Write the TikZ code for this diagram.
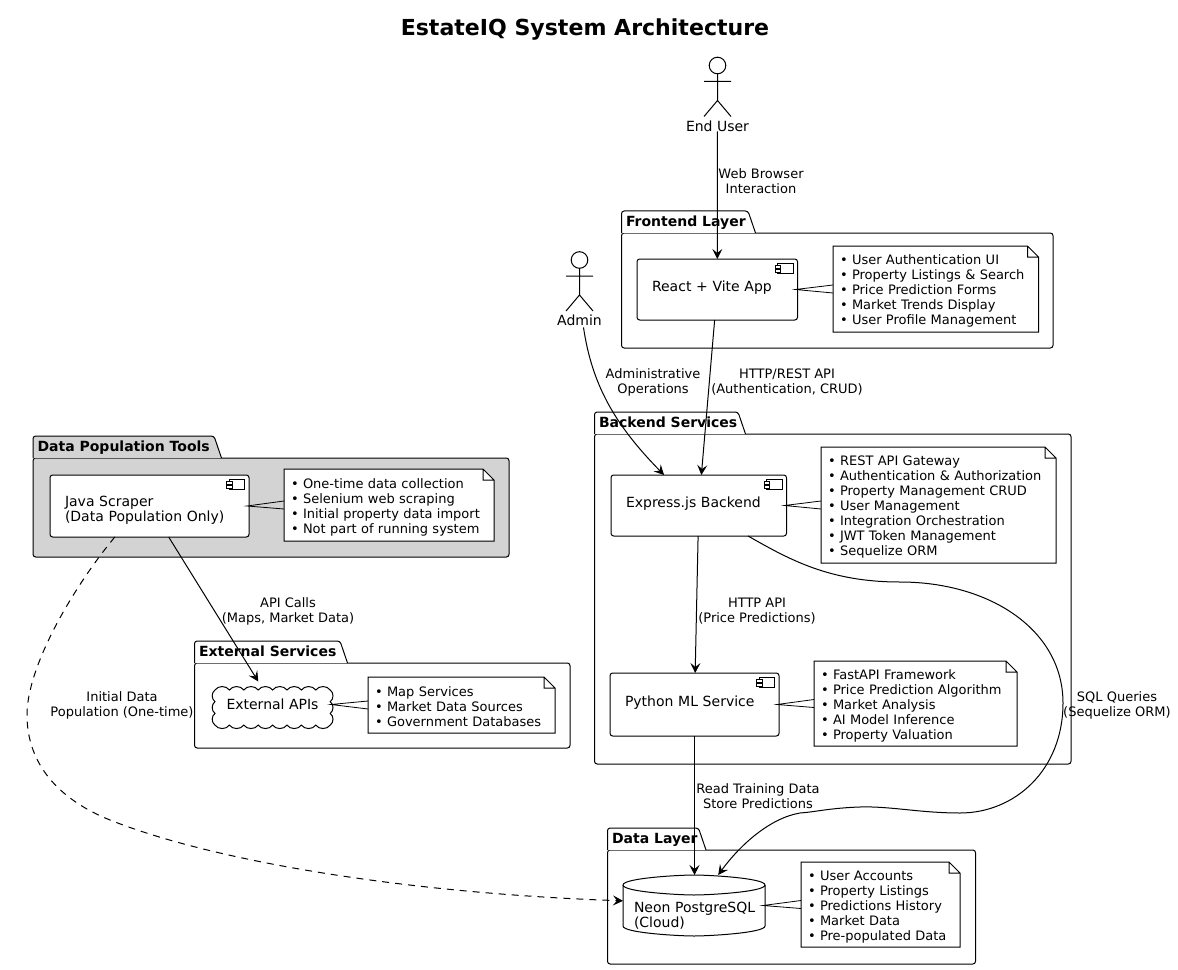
\documentclass[tikz,border=0pt]{standalone}
\usepackage{fontspec}
\setmainfont{DejaVu Sans}
\usepackage{tikz}
\usetikzlibrary{
	arrows.meta
}
\definecolor{toolsgray}{HTML}{D3D3D3}
\tikzset{
	every node/.style={inner sep=0pt,outer sep=0pt},
	base/.style={line width=0.75pt,line join=miter},
	lbl/.style={font=\fontsize{9.75}{11.25}\selectfont,align=center},
	arr/.style={base,-{Stealth[length=7.5pt,width=7.5pt,inset=3pt]}},
	pkg/.style 2 args={base,draw,fill=white,rounded corners=2pt,minimum width=#1*0.75pt,minimum height=#2*0.75pt},
	pkgtitle/.style={font=\fontsize{10.5}{12}\selectfont\bfseries,anchor=base west},
	comp/.style 2 args={base,draw,fill=white,rounded corners=2pt,minimum height=#2*0.75pt,
		text width={(#1-30)*0.75pt},inner xsep=11.25pt,align=left,
		font=\fontsize{10.5}{11.25}\selectfont,text height=8pt,text depth=4.8pt},
	note/.style 2 args={fill=white,minimum height=#2*0.75pt,text width={(#1-14)*0.75pt},
		inner xsep=5.25pt,align=left,font=\fontsize{9.75}{11.25}\selectfont,
		execute at begin node={\rule{0pt}{10.3pt}}},
	db/.style={minimum height=61*0.75pt,text width={131*0.75pt},inner xsep=0pt,align=left,
		font=\fontsize{10.5}{11.25}\selectfont,text height=23.3pt,text depth=13.5pt},
	actorlbl/.style={font=\fontsize{10.5}{12}\selectfont},
	actor/.pic={
		\draw[base,fill=white] (0,0) circle[radius=8.3];
		\draw[base] (0,8.3) -- (0,35) (-13.5,16) -- (13.5,16)
			(-13.5,51) -- (0,35) -- (13.5,51);
	}
}
% outline of a note, drawn over its filled node
\newcommand{\notefold}[2][white]{
	\fill[#1] ([xshift=-8.25pt]#2.north east) -- (#2.north east) -- ([yshift=-8.25pt]#2.north east) -- cycle;
	\draw[base] (#2.north west) -- ([xshift=-8.25pt]#2.north east) -- ([yshift=-8.25pt]#2.north east)
		-- (#2.south east) -- (#2.south west) -- cycle
		([xshift=-8.25pt]#2.north east) |- ([yshift=-8.25pt]#2.north east);
}
\newcommand{\notetail}[2]{
	\draw[base,line width=0.6pt] ([yshift=3pt]#2.west) -- ([xshift=-1.5pt]#1.east) -- ([yshift=-3pt]#2.west);
}
\newcommand{\compicon}[1]{
	\draw[line width=0.6pt,fill=white] ([xshift=-15pt,yshift=-3pt]#1.north east) rectangle ([xshift=-3.4pt,yshift=-10.5pt]#1.north east);
	\draw[line width=0.6pt,fill=white] ([xshift=-16.9pt,yshift=-4.5pt]#1.north east) rectangle ([xshift=-12.8pt,yshift=-6.7pt]#1.north east);
	\draw[line width=0.6pt,fill=white] ([xshift=-16.9pt,yshift=-7.5pt]#1.north east) rectangle ([xshift=-12.8pt,yshift=-9.7pt]#1.north east);
}
\newcommand{\pkgtab}[4][white]{
	\draw[base,fill=#1,rounded corners=2pt] (#2.north west) -- ++(0,-22) -- ++(#4,0) [sharp corners] -- ++(7.5,22);
	\node[pkgtitle] (#2title) at ([xshift=3.4pt,yshift=4.9pt]#2.north west) {#3};
}

\begin{document}
\begin{tikzpicture}[x=0.75pt,y=-0.75pt]
	\useasboundingbox (0,0) rectangle (1178,970);

	\node[font=\fontsize{16.55}{20}\selectfont\bfseries] (title) at (585,30) {EstateIQ System Architecture};

	% packages
	\node[pkg={431.5}{115},anchor=north west] (frontend) at (621.5,233) {};
	\pkgtab{frontend}{Frontend Layer}{126.5}
	\node[pkg={476.5}{330},anchor=north west] (backend) at (594.5,434) {};
	\pkgtab{backend}{Backend Services}{143.5}
	\node[pkg={476}{99},anchor=north west,fill=toolsgray] (tools) at (33,458) {};
	\pkgtab[toolsgray]{tools}{Data Population Tools}{181}
	\node[pkg={375.5}{85},anchor=north west] (external) at (194.5,663) {};
	\pkgtab{external}{External Services}{145.5}
	\node[pkg={368}{114},anchor=north west] (data) at (607.5,850) {};
	\pkgtab{data}{Data Layer}{91}

	% actors
	\pic at (717.5,65.5) {actor};
	\node[actorlbl] (enduser) at (717.5,126) {End User};
	\pic at (579.5,260) {actor};
	\node[actorlbl] (admin) at (579.5,320) {Admin};

	% components
	\node[comp={160.5}{61}]  (react)   at (717.25,289.5) {React + Vite App};
	\node[comp={175.5}{61}]  (express) at (698.75,505.5) {Express.js Backend};
	\node[comp={169}{63}]    (python)  at (694.5,704.5)  {Python ML Service};
	\node[comp={199}{62},text height=14.7pt,text depth=13.5pt] (java) at (149.5,506) {Java Scraper\\(Data Population Only)};
	\compicon{react}
	\compicon{express}
	\compicon{python}
	\compicon{java}

	\draw[base,fill=white] (215,690)
		\foreach \i in {1,...,8}{ to[bend left=55] ++(14.4,0) }
		\foreach \i in {1,2,3}{ to[bend left=55] ++(0,11.7) }
		\foreach \i in {1,...,8}{ to[bend left=55] ++(-14.4,0) }
		\foreach \i in {1,2,3}{ to[bend left=55] ++(0,-11.7) };
	\node[minimum width=121*0.75pt,minimum height=46*0.75pt,font=\fontsize{10.5}{12}\selectfont] (apis) at (272.5,704.5) {External APIs};

	\draw[base,fill=white] (623,885) .. controls (623,878) and (680,875) .. (694,875)
		.. controls (708,875) and (765,878) .. (765,885) -- (765,926)
		.. controls (765,933) and (708,936) .. (694,936)
		.. controls (680,936) and (623,933) .. (623,926) -- cycle;
	\draw[base] (623,885) .. controls (623,892) and (680,895) .. (694,895)
		.. controls (708,895) and (765,892) .. (765,885);
	\node[db] (neon) at (699.5,905.5) {Neon PostgreSQL\\(Cloud)};
	\coordinate (neonw) at (623,905.5);
	\coordinate (neone) at (765,905.5);

	% notes
	\node[note={205.5}{86}] (reactnote) at (935.75,289) {%
		• User Authentication UI\\• Property Listings \& Search\\• Price Prediction Forms\\• Market Trends Display\\• User Profile Management};
	\node[note={235}{116}] (expressnote) at (938.5,505) {%
		• REST API Gateway\\• Authentication \& Authorization\\• Property Management CRUD\\• User Management\\• Integration Orchestration\\• JWT Token Management\\• Sequelize ORM};
	\node[note={203}{85}] (pythonnote) at (915.5,703.5) {%
		• FastAPI Framework\\• Price Prediction Algorithm\\• Market Analysis\\• AI Model Inference\\• Property Valuation};
	\node[note={210}{72}] (javanote) at (389,505) {%
		• One-time data collection\\• Selenium web scraping\\• Initial property data import\\• Not part of running system};
	\node[note={187}{56}] (apisnote) at (461.5,705) {%
		• Map Services\\• Market Data Sources\\• Government Databases};
	\node[note={159}{85}] (neonnote) at (880.5,904.5) {%
		• User Accounts\\• Property Listings\\• Predictions History\\• Market Data\\• Pre-populated Data};
	\notefold{reactnote}
	\notefold{expressnote}
	\notefold{pythonnote}
	\notefold[toolsgray]{javanote}
	\notefold{apisnote}
	\notefold{neonnote}
	\notetail{react}{reactnote}
	\notetail{express}{expressnote}
	\notetail{python}{pythonnote}
	\notetail{java}{javanote}
	\notetail{apis}{apisnote}
	\notetail{neone}{neonnote}

	% connectors
	\draw[arr] (enduser) -- (react);
	\draw[arr] (react) -- (express);
	\draw[arr] (express) -- (python);
	\draw[arr] (python) -- ([xshift=-3.75pt]neon.north);
	\draw[arr] (java) -- (apis);
	\draw[arr] ([xshift=3pt,yshift=-1.5pt]admin.south) .. controls (592,385) and (615,425) .. ([xshift=-26pt]express.north);
	\draw[arr] ([xshift=37pt]express.south) .. controls (790,560) and (830,582) .. (900,582)
		.. controls (990,582) and (1063,630) .. (1063,703)
		.. controls (1063,770) and (1015,813) .. (960,813)
		.. controls (920,813) and (890,806) .. (860,807)
		.. controls (830,808) and (815,812) .. (800,813)
		.. controls (770,818) and (740,845) .. ([xshift=14pt]neon.north);
	\draw[arr,dash pattern=on 5.25pt off 4.5pt] ([xshift=-26pt]java.south) .. controls (75,585) and (27,665) .. (27,715)
		.. controls (27,765) and (60,800) .. (110,820)
		.. controls (210,860) and (400,893) .. ([yshift=3.5pt]neonw);

	% connector labels
	\node[lbl] (browserlbl) at (761,181)  {Web Browser\\Interaction};
	\node[lbl] (restlbl)    at (787,382)  {HTTP/REST API\\(Authentication, CRUD)};
	\node[lbl] (adminlbl)   at (653,382)  {Administrative\\Operations};
	\node[lbl] (mllbl)      at (757,611)  {HTTP API\\(Price Predictions)};
	\node[lbl] (readlbl)    at (758,796)  {Read Training Data\\Store Predictions};
	\node[lbl] (sqllbl)     at (1117,705) {SQL Queries\\(Sequelize ORM)};
	\node[lbl] (apilbl)     at (288,611)  {API Calls\\(Maps, Market Data)};
	\node[lbl] (initlbl)    at (122,705)  {Initial Data\\Population (One-time)};
\end{tikzpicture}
\end{document}
